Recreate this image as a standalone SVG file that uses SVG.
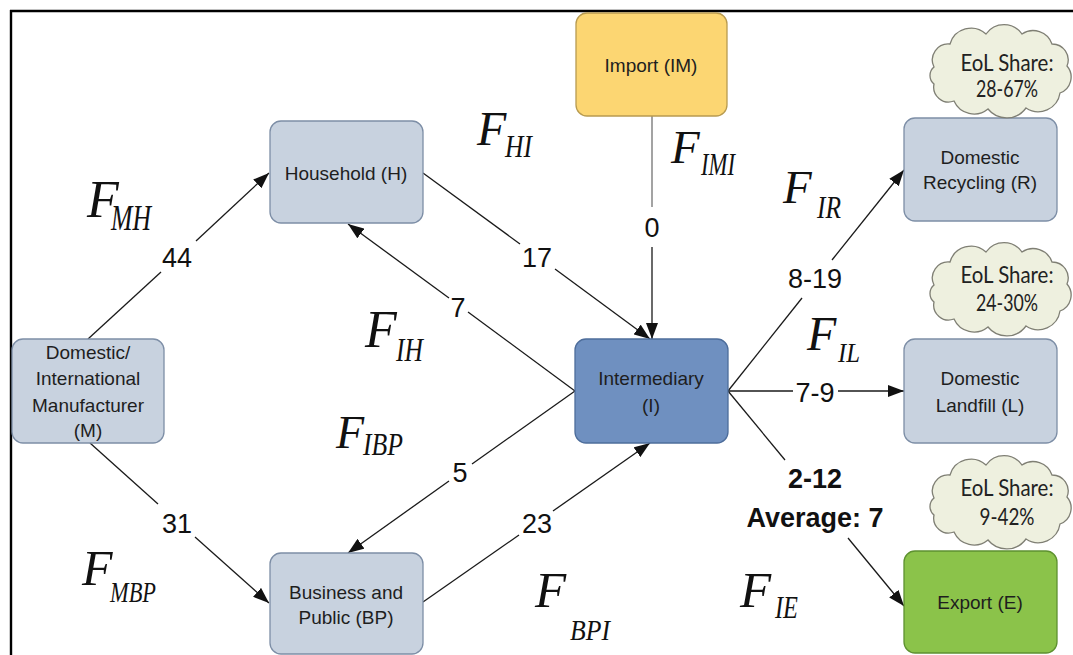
<svg xmlns="http://www.w3.org/2000/svg" width="1073" height="655" viewBox="0 0 1073 655">
  <defs>
    <marker id="arrow" markerUnits="userSpaceOnUse" markerWidth="17" markerHeight="12" refX="16" refY="6" orient="auto">
      <path d="M0,0 L16,6 L0,12 z" fill="#111"/>
    </marker>
    <path id="cloud" d="M-66,-4 A16,16 0 0 1 -50,-27 A22,22 0 0 1 -14,-37 A22,22 0 0 1 22,-37 A20,20 0 0 1 52,-27 A16,16 0 0 1 67,-5 A17,17 0 0 1 60,22 A22,22 0 0 1 26,37 A24,24 0 0 1 -12,38 A22,22 0 0 1 -46,30 A15,15 0 0 1 -66,13 A11,11 0 0 1 -66,-4 z"/>
    <style>
      .box { stroke-width: 1.3; }
      .grey { fill: #c8d2df; stroke: #7d8ea6; }
      .mid { fill: #6f90c0; stroke: #4d6d9b; }
      .imp { fill: #fcd672; stroke: #b89b50; }
      .exp { fill: #8bc34a; stroke: #5e9130; }
      .lbl { font-family: "Liberation Sans", Arial, sans-serif; font-size: 19px; fill: #1e1e1e; text-anchor: middle; }
      .num { font-family: "Liberation Sans", Arial, sans-serif; font-size: 27px; fill: #111; text-anchor: middle; }
      .bold { font-weight: bold; }
      .fl { font-family: "Liberation Serif", "Times New Roman", serif; font-style: italic; fill: #111; }
      .cl { fill: #eef0df; stroke: #7f7f74; stroke-width: 1.3; }
      .ct { font-family: Lato, "Open Sans", sans-serif; font-size: 23px; fill: #222; text-anchor: middle; }
      .ln { fill: none; stroke: #1a1a1a; stroke-width: 1.3; }
      .lg { fill: none; stroke: #666; stroke-width: 1.2; }
    </style>
  </defs>

  <rect width="1073" height="655" fill="#ffffff"/>

  <!-- outer frame -->
  <path d="M10,11 H1073 M11,10 V655" fill="none" stroke="#000" stroke-width="2.4"/>

  <!-- connectors -->
  <g id="connectors">
    <!-- M -> H -->
    <path class="ln" d="M88,339 L161,272"/>
    <path class="ln" d="M196,241 L269,173" marker-end="url(#arrow)"/>
    <!-- M -> BP -->
    <path class="ln" d="M90,443 L158,504"/>
    <path class="ln" d="M195,537 L269,603" marker-end="url(#arrow)"/>
    <!-- H -> I -->
    <path class="ln" d="M423,173 L520,244"/>
    <path class="ln" d="M555,269 L650,339" marker-end="url(#arrow)"/>
    <!-- I -> H -->
    <path class="ln" d="M575,391 L468,312"/>
    <path class="ln" d="M449,298 L348,224" marker-end="url(#arrow)"/>
    <!-- I -> BP -->
    <path class="ln" d="M575,391 L472,464"/>
    <path class="ln" d="M449,481 L348,553" marker-end="url(#arrow)"/>
    <!-- BP -> I -->
    <path class="ln" d="M423,602 L519,535"/>
    <path class="ln" d="M553,511 L650,443" marker-end="url(#arrow)"/>
    <!-- IM -> I -->
    <path class="lg" d="M652,116 L652,207"/>
    <path class="ln" d="M652,247 L652,339" marker-end="url(#arrow)"/>
    <!-- I -> R -->
    <path class="ln" d="M728,391 L802,298"/>
    <path class="ln" d="M832,260 L904,170" marker-end="url(#arrow)"/>
    <!-- I -> L -->
    <path class="ln" d="M728,391 L793,391"/>
    <path class="ln" d="M838,391 L904,391" marker-end="url(#arrow)"/>
    <!-- I -> E -->
    <path class="ln" d="M728,391 L785,460"/>
    <path class="ln" d="M848,538 L904,606" marker-end="url(#arrow)"/>

    <!-- flow values -->
    <text class="num" x="177" y="267">44</text>
    <text class="num" x="177" y="533">31</text>
    <text class="num" x="537" y="267">17</text>
    <text class="num" x="458" y="317">7</text>
    <text class="num" x="460" y="482">5</text>
    <text class="num" x="537" y="533">23</text>
    <text class="num" x="652" y="237">0</text>
    <text class="num" x="815" y="288">8-19</text>
    <text class="num" x="815" y="402">7-9</text>
    <text class="num bold" x="815" y="488">2-12</text>
    <text class="num bold" x="815" y="527">Average: 7</text>
  </g>

  <!-- flow symbols -->
  <g id="flow-symbols">
    <text class="fl" x="87" y="217" font-size="52">F</text>
    <text class="fl" x="111" y="230" font-size="36" textLength="40" lengthAdjust="spacingAndGlyphs">MH</text>

    <text class="fl" x="477" y="145" font-size="48">F</text>
    <text class="fl" x="505" y="157" font-size="32" textLength="27" lengthAdjust="spacingAndGlyphs">HI</text>

    <text class="fl" x="671" y="163" font-size="47">F</text>
    <text class="fl" x="701" y="175" font-size="32" textLength="34" lengthAdjust="spacingAndGlyphs">IMI</text>

    <text class="fl" x="783" y="203" font-size="47">F</text>
    <text class="fl" x="817" y="218" font-size="31" textLength="24" lengthAdjust="spacingAndGlyphs">IR</text>

    <text class="fl" x="365" y="347" font-size="52">F</text>
    <text class="fl" x="396" y="361" font-size="34" textLength="27" lengthAdjust="spacingAndGlyphs">IH</text>

    <text class="fl" x="807" y="350" font-size="48">F</text>
    <text class="fl" x="838" y="362" font-size="28" textLength="22" lengthAdjust="spacingAndGlyphs">IL</text>

    <text class="fl" x="336" y="448" font-size="46">F</text>
    <text class="fl" x="363" y="455" font-size="32" textLength="40" lengthAdjust="spacingAndGlyphs">IBP</text>

    <text class="fl" x="82" y="585" font-size="50">F</text>
    <text class="fl" x="110" y="602" font-size="29" textLength="46" lengthAdjust="spacingAndGlyphs">MBP</text>

    <text class="fl" x="535" y="607" font-size="51">F</text>
    <text class="fl" x="570" y="640" font-size="30" textLength="40" lengthAdjust="spacingAndGlyphs">BPI</text>

    <text class="fl" x="740" y="607" font-size="51">F</text>
    <text class="fl" x="775" y="618" font-size="32" textLength="23" lengthAdjust="spacingAndGlyphs">IE</text>
  </g>

  <!-- nodes -->
  <g id="node-manufacturer">
    <rect class="box grey" x="12" y="339" width="152" height="104" rx="11"/>
    <text class="lbl" x="88" y="359">Domestic/</text>
    <text class="lbl" x="88" y="385">International</text>
    <text class="lbl" x="88" y="412">Manufacturer</text>
    <text class="lbl" x="88" y="437">(M)</text>
  </g>
  <g id="node-household">
    <rect class="box grey" x="270" y="121" width="153" height="102" rx="11"/>
    <text class="lbl" x="346" y="180" font-size="18">Household (H)</text>
  </g>
  <g id="node-business">
    <rect class="box grey" x="270" y="553" width="153" height="101" rx="11"/>
    <text class="lbl" x="346" y="599">Business and</text>
    <text class="lbl" x="346" y="624">Public (BP)</text>
  </g>
  <g id="node-import">
    <rect class="box imp" x="576" y="13" width="151" height="103" rx="11"/>
    <text class="lbl" x="651" y="72">Import (IM)</text>
  </g>
  <g id="node-intermediary">
    <rect class="box mid" x="575" y="339" width="153" height="104" rx="11"/>
    <text class="lbl" x="651" y="385">Intermediary</text>
    <text class="lbl" x="651" y="412">(I)</text>
  </g>
  <g id="node-recycling">
    <rect class="box grey" x="904" y="118" width="153" height="103" rx="11"/>
    <text class="lbl" x="980" y="164">Domestic</text>
    <text class="lbl" x="980" y="189">Recycling (R)</text>
  </g>
  <g id="node-landfill">
    <rect class="box grey" x="904" y="339" width="153" height="104" rx="11"/>
    <text class="lbl" x="980" y="385">Domestic</text>
    <text class="lbl" x="980" y="412">Landfill (L)</text>
  </g>
  <g id="node-export">
    <rect class="box exp" x="904" y="551" width="153" height="102" rx="11"/>
    <text class="lbl" x="980" y="609">Export (E)</text>
  </g>

  <!-- end-of-life share callouts -->
  <g id="cloud-recycling">
    <use href="#cloud" class="cl" transform="translate(1000,71)"/>
    <text class="ct" x="1007" y="71" textLength="93" lengthAdjust="spacingAndGlyphs">EoL Share:</text>
    <text class="ct" x="1007" y="97" textLength="62" lengthAdjust="spacingAndGlyphs">28-67%</text>
  </g>
  <g id="cloud-landfill">
    <use href="#cloud" class="cl" transform="translate(1000,289)"/>
    <text class="ct" x="1007" y="283" textLength="93" lengthAdjust="spacingAndGlyphs">EoL Share:</text>
    <text class="ct" x="1007" y="311" textLength="62" lengthAdjust="spacingAndGlyphs">24-30%</text>
  </g>
  <g id="cloud-export">
    <use href="#cloud" class="cl" transform="translate(1000,502)"/>
    <text class="ct" x="1007" y="496" textLength="93" lengthAdjust="spacingAndGlyphs">EoL Share:</text>
    <text class="ct" x="1007" y="525" textLength="55" lengthAdjust="spacingAndGlyphs">9-42%</text>
  </g>
</svg>
